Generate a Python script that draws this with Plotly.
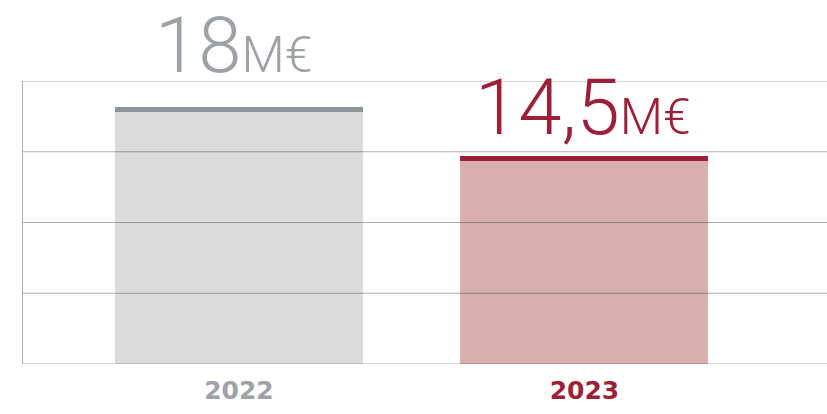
import plotly.graph_objects as go

# ---- data ----
years = ["2022", "2023"]
values = [18.0, 14.5]
value_labels = ["18", "14,5"]
unit_label = "M€"
grid_values = [0, 5, 10, 15, 20]

# ---- styles ----
fill_colors = ["#dadbdd", "#d8afab"]
edge_colors = ["#8f9498", "#9c2138"]
label_colors = ["#9ea2a6", "#9c2138"]
edge_thickness = 0.35  # in value units
label_yshift = [16, 4]
label_xshift = [-5, -1]

fig = go.Figure()

fig.add_trace(go.Bar(
    x=years, y=values, marker=dict(color=fill_colors, line=dict(width=0)),
    width=0.718, hoverinfo="skip", showlegend=False,
))
fig.add_trace(go.Bar(
    x=years, y=[edge_thickness] * len(values),
    base=[v - edge_thickness / 2 for v in values],
    marker=dict(color=edge_colors, line=dict(width=0)),
    width=0.718, hoverinfo="skip", showlegend=False,
))

for g in grid_values:
    fig.add_shape(type="line", xref="paper", x0=0, x1=1, yref="y", y0=g, y1=g,
                  line=dict(color="rgba(60,60,60,0.42)", width=1), layer="above")

for i, v in enumerate(values):
    fig.add_annotation(
        x=i, y=v, xref="x", yref="y", yanchor="bottom", xanchor="center",
        yshift=label_yshift[i], xshift=label_xshift[i], showarrow=False,
        text=f'{value_labels[i]}<span style="font-size:50px">{unit_label}</span>',
        font=dict(family="Roboto", size=78, color=label_colors[i], weight=300),
    )

tick_text = [f"<span style='color:{c}'>{y}</span>" for y, c in zip(years, label_colors)]

fig.update_layout(
    width=827, height=414,
    margin=dict(l=23, r=0, t=81, b=50),
    paper_bgcolor="white", plot_bgcolor="white",
    barmode="overlay",
    bargap=0,
    xaxis=dict(
        type="category", range=[-0.625, 1.702],
        tickvals=years, ticktext=tick_text,
        tickfont=dict(family="DejaVu Sans", size=25, weight="bold"),
        showgrid=False, zeroline=False, showline=False,
        ticks="", ticklabelstandoff=9, fixedrange=True,
    ),
    yaxis=dict(
        range=[0, 20], showgrid=False, zeroline=False,
        showticklabels=False, ticks="",
        showline=True, linecolor="#b0b0b0", linewidth=1, fixedrange=True,
    ),
)

fig.write_html("out.html", config={"displayModeBar": False},
               post_script="document.body.style.margin='0';")
